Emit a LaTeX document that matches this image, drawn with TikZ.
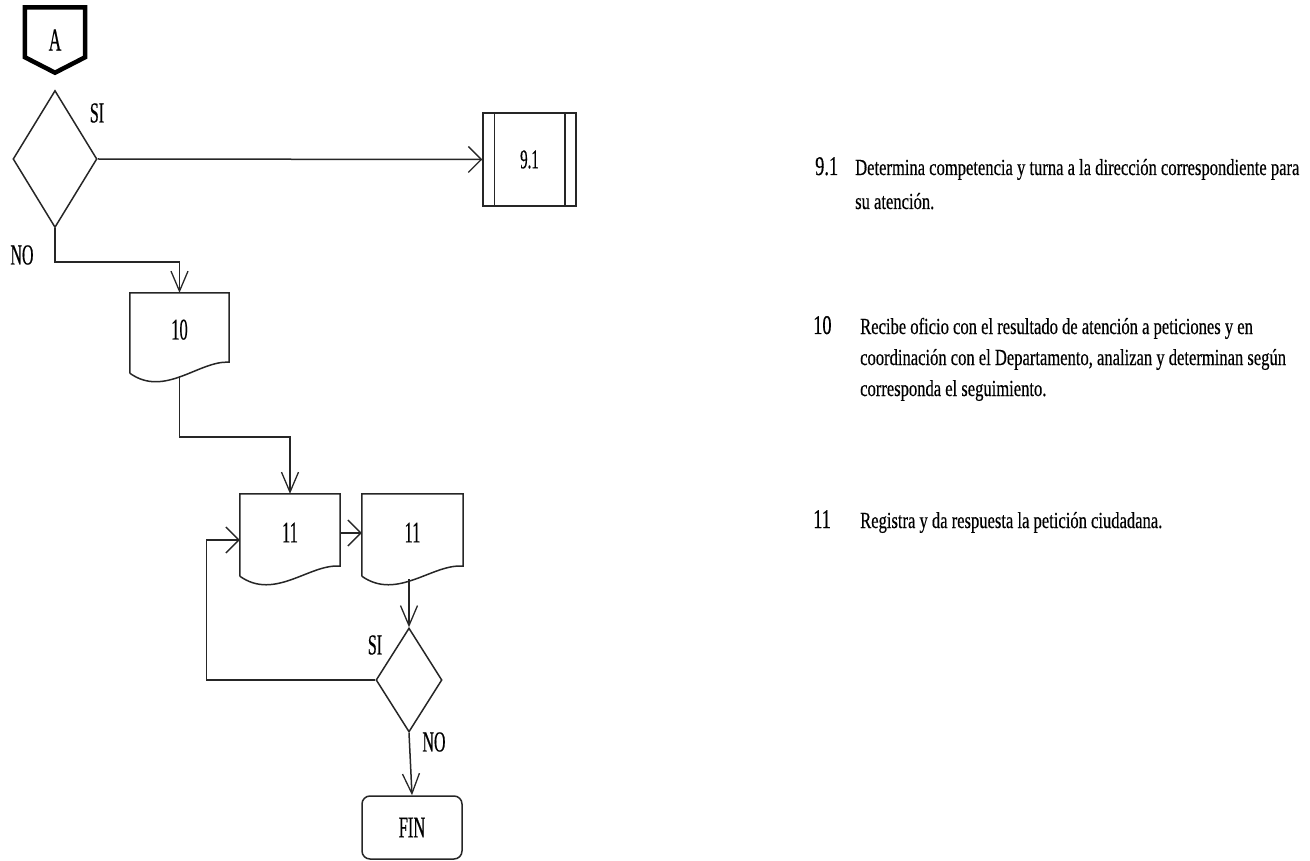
\documentclass[tikz,border=0pt]{standalone}
\usepackage{fontspec}
\setmainfont{Liberation Serif}
\newfontfamily\lblfont[FakeStretch=0.55,FakeBold=0.4]{Liberation Serif}
\newfontfamily\numfont[FakeStretch=0.68,FakeBold=0.4]{Liberation Serif}
\newfontfamily\descfont[FakeStretch=0.72,FakeBold=0.4]{Liberation Serif}
\usetikzlibrary{shapes.geometric,arrows.meta,calc}
\newcommand\docpath[2]{%
  \draw[outline] (#1.south west) -- (#1.north west) -- (#1.north east)
    -- ([yshift=#2pt]#1.south east)
    .. controls ($(#1.south west)!0.7!(#1.south east)+(0,-13)$)
       and ($(#1.south west)!0.35!(#1.south east)+(0,25)$) .. (#1.south west);}
\begin{document}
\begin{tikzpicture}[x=1pt,y=-1pt,
  outline/.style={draw=black!85,line width=1.5pt},
  conn/.style={draw=black!85,line width=1.5pt},
  harrow/.style={conn,-{Straight Barb[length=13pt,width=26pt,line width=1.3pt]}},
  varrow/.style={conn,-{Straight Barb[length=20pt,width=17pt,line width=1.3pt]}},
  shapeonly/.style={draw=none,inner sep=0pt},
  dec/.style={diamond,aspect=1,outline,inner sep=0pt},
  lbl/.style={font={\lblfont\fontsize{29}{29}\selectfont},inner sep=0pt},
  boxtxt/.style={font={\lblfont\fontsize{30}{30}\selectfont}},
  numtxt/.style={font={\numfont\fontsize{27}{27}\selectfont},inner sep=0pt},
  desc/.style={font={\descfont\fontsize{23}{30}\selectfont},inner sep=0pt,align=left}
]
\path[use as bounding box] (0,0) rectangle (1310,861);

% off-page connector A
\node[shapeonly,minimum width=60pt,minimum height=65pt,font={\lblfont\fontsize{32}{32}\selectfont}] (A) at (55,40) {A};
\draw[line width=4.5pt,line join=miter] (A.north west) -- (A.north east) -- ([yshift=15.5pt]A.south east)
  -- (A.south) -- ([yshift=15.5pt]A.south west) -- cycle;

% first decision
\node[dec,minimum width=84pt,minimum height=137pt] (d1) at (55,159) {};
\node[lbl] (si1) at (97,113) {SI};
\node[lbl] (no1) at (22,255) {NO};

% predefined process 9.1
\node[outline,rectangle,minimum width=93pt,minimum height=93pt,inner sep=0pt,font={\lblfont\fontsize{27}{27}\selectfont}] (b91) at (529.5,159.5) {9.1};
\draw[outline] ([xshift=12pt]b91.north west) -- ([xshift=12pt]b91.south west);
\draw[outline] ([xshift=-12pt]b91.north east) -- ([xshift=-12pt]b91.south east);

% documents
\node[shapeonly,minimum width=99pt,minimum height=80pt,boxtxt] (d10) at (179.5,333) {\raisebox{7pt}{10}};
\docpath{d10}{11}
\node[shapeonly,minimum width=100pt,minimum height=82pt,boxtxt] (d11a) at (290,535) {\raisebox{5pt}{11}};
\docpath{d11a}{10}
\node[shapeonly,minimum width=101pt,minimum height=82pt,boxtxt] (d11b) at (412.5,535) {\raisebox{5pt}{11}};
\docpath{d11b}{10}

% second decision
\node[dec,minimum width=66pt,minimum height=104pt] (d2) at (409,680) {};
\node[lbl] (si2) at (375,645) {SI};
\node[lbl] (no2) at (434,742) {NO};

% terminator
\node[outline,rectangle,rounded corners=8pt,minimum width=100pt,minimum height=63pt,boxtxt] (fin) at (412,827.5) {FIN};

% connectors
\coordinate (e10) at ($(d10.south)+(0,3)$);
\coordinate (e11b) at ($(d2.north |- d11b.south)+(0,3)$);
\draw[harrow] (d1.east) -- (b91.west);
\draw[varrow] (d1.south) -- ++(0,34) -| (d10.north);
\draw[varrow] (e10) -- ++(0,61) -| (d11a.north);
\draw[harrow] ([yshift=2pt]d11a.east) -- ([yshift=2pt]d11b.west);
\draw[varrow] (e11b) -- (d2.north);
\draw[harrow] (d2.west) -- ++(-169,0) |- ([yshift=-5pt]d11a.west);
\draw[varrow] (d2.south) -- (fin.north);

% descriptions (base anchor = baseline of last line)
\node[numtxt,anchor=base west] (n91) at (815,175) {9.1};
\node[desc,anchor=base west] (t91) at (855,209) {Determina competencia y turna a la dirección correspondiente para\\[4pt]su atención.};
\node[numtxt,anchor=base west] (n10) at (813,334) {10};
\node[desc,anchor=base west] (t10) at (860,396) {Recibe oficio con el resultado de atención a peticiones y en\\[1pt]coordinación con el Departamento, analizan y determinan según\\[1pt]corresponda el seguimiento.};
\node[numtxt,anchor=base west] (n11) at (813,528) {11};
\node[desc,anchor=base west] (t11) at (860,528) {Registra y da respuesta la petición ciudadana.};
\end{tikzpicture}
\end{document}
